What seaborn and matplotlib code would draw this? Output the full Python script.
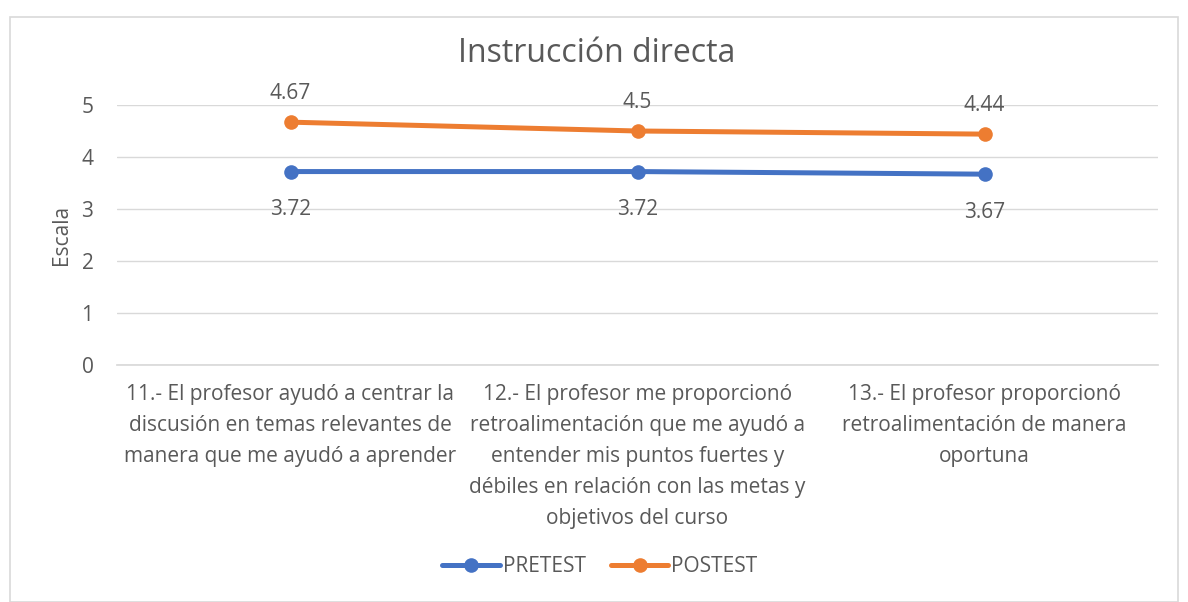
import matplotlib
matplotlib.use("Agg")
import matplotlib.pyplot as plt
import seaborn as sns
import pandas as pd
from matplotlib.patches import Rectangle
from matplotlib.lines import Line2D

categories = [
    "11.- El profesor ayudó a centrar la\ndiscusión en temas relevantes de\nmanera que me ayudó a aprender",
    "12.- El profesor me proporcionó\nretroalimentación que me ayudó a\nentender mis puntos fuertes y\ndébiles en relación con las metas y\nobjetivos del curso",
    "13.- El profesor proporcionó\nretroalimentación de manera\noportuna",
]
pretest = [3.72, 3.72, 3.67]
postest = [4.67, 4.50, 4.44]
pre_labels = ["3.72", "3.72", "3.67"]
post_labels = ["4.67", "4.5", "4.44"]
series_names = ["PRETEST", "POSTEST"]
colors = ["#4472C4", "#ED7D31"]

sns.set_theme(style="white")
plt.rcParams['font.family'] = ['Open Sans', 'DejaVu Sans']
text_color = "#595959"
fs = 15

df = pd.DataFrame({
    "pos": list(range(len(categories))) * 2,
    "valor": pretest + postest,
    "serie": [series_names[0]] * 3 + [series_names[1]] * 3,
})

fig = plt.figure(figsize=(11.88, 6.02), dpi=100)
ax = fig.add_axes([117/1188, 1-365/602, (1158-117)/1188, (365-105)/602])

sns.lineplot(data=df, x="pos", y="valor", hue="serie", palette=colors,
             marker="o", markersize=10.5, markeredgewidth=0, linewidth=3.6,
             ax=ax, legend=False)

ax.set_xlim(-0.5, 2.5)
ax.set_ylim(0, 5)
ax.set_yticks([0, 1, 2, 3, 4, 5])
ax.set_xticks(range(len(categories)))
ax.set_xticklabels(categories, fontsize=fs, color=text_color, linespacing=1.62)
ax.tick_params(axis='y', labelsize=fs, labelcolor=text_color, length=0, pad=17)
ax.tick_params(axis='x', length=0, pad=14)
ax.set_xlabel("")
ax.set_ylabel("Escala", fontsize=fs, color=text_color, labelpad=7)
ax.grid(axis='y', color="#D9D9D9", linewidth=1)
ax.set_axisbelow(True)
for s in ["top", "right", "left"]:
    ax.spines[s].set_visible(False)
ax.spines["bottom"].set_color("#D9D9D9")

for i in range(len(categories)):
    ax.annotate(post_labels[i], (i, postest[i]), xytext=(0, 20.5), textcoords="offset points",
                ha="center", va="center", fontsize=fs, color=text_color)
    ax.annotate(pre_labels[i], (i, pretest[i]), xytext=(0, -27.5), textcoords="offset points",
                ha="center", va="center", fontsize=fs, color=text_color)

fig.text(597/1188, 1-53/602, "Instrucción directa", ha="center", va="center",
         fontsize=23, color=text_color)

handles = [Line2D([0], [0], color=c, lw=3.6, marker="o", markersize=10.5, markeredgewidth=0)
           for c in colors]
leg = fig.legend(handles, series_names, loc="center", bbox_to_anchor=(600/1188, 1-567/602),
                 ncol=2, frameon=False, fontsize=fs, handlelength=2.75, columnspacing=1.2,
                 handletextpad=0.15)
for t in leg.get_texts():
    t.set_color(text_color)

fig.patches.append(Rectangle((10/1188, 0.0), 1168/1188, 1-17/602, transform=fig.transFigure,
                             fill=False, edgecolor="#D9D9D9", linewidth=1.2))

fig.savefig("out.png", dpi=100, facecolor="white")
